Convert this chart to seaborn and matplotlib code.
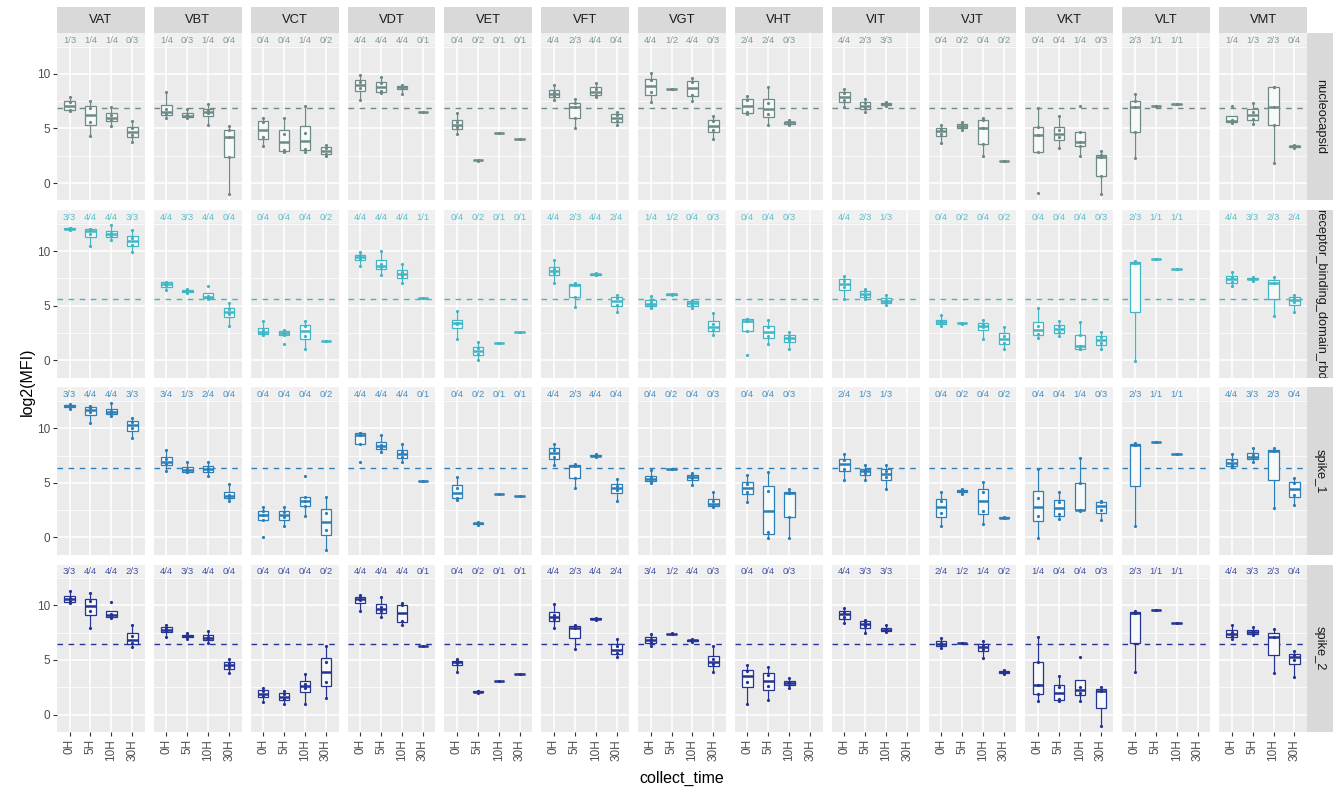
import matplotlib
matplotlib.use("Agg")
import matplotlib.pyplot as plt
import pandas as pd
import seaborn as sns

times = ["0H", "5H", "10H", "30H"]
sites = ["VAT", "VBT", "VCT", "VDT", "VET", "VFT", "VGT",
         "VHT", "VIT", "VJT", "VKT", "VLT", "VMT"]
antigens = ["nucleocapsid", "receptor_binding_domain_rbd", "spike_1", "spike_2"]
cutoffs = [6.92, 5.58, 6.33, 6.49]
colors = ["#6E8A88", "#41B6C4", "#2C7FB8", "#253494"]

# log2(MFI) per site, per collect_time (0H, 5H, 10H, 30H)
nucleocapsid = [
    [[6.6, 6.7, 7.4, 7.9], [4.3, 5.6, 6.9, 7.5], [5.2, 5.8, 6.2, 7.0], [3.8, 4.4, 5.0, 5.7]],
    [[6.0, 6.3, 6.8, 8.3], [5.95, 6.1, 6.25, 6.8], [5.3, 6.45, 6.65, 7.2], [-1.0, 2.4, 4.2, 4.9, 5.2]],
    [[3.4, 4.2, 5.6, 6.0], [2.85, 3.0, 4.45, 5.95], [2.8, 3.15, 4.6, 7.1], [2.45, 2.7, 3.2, 3.5]],
    [[7.6, 8.7, 9.3, 9.9], [8.25, 8.4, 9.15, 9.7], [8.2, 8.75, 8.9, 9.0], [6.5]],
    [[4.5, 5.1, 5.6, 6.45], [2.05, 2.15], [4.57], [4.05]],
    [[7.6, 8.0, 8.35, 9.0], [5.0, 5.95, 6.95, 7.3, 7.7], [7.9, 8.1, 8.65, 9.15], [5.35, 5.65, 6.25, 6.55]],
    [[7.4, 8.3, 9.4, 10.05], [8.6, 8.66], [7.5, 8.1, 9.3, 9.65], [4.0, 4.85, 5.65, 6.15]],
    [[6.35, 6.5, 7.6, 8.0], [5.35, 6.3, 7.35, 8.8], [5.3, 5.5, 5.6, 5.75], []],
    [[7.0, 7.6, 8.25, 8.6], [6.5, 6.9, 7.3, 7.7], [7.05, 7.2, 7.3, 7.45], []],
    [[3.65, 4.5, 4.95, 5.33], [4.9, 5.1, 5.4, 5.55], [2.5, 3.6, 5.0, 5.8, 5.95], [2.0, 2.05]],
    [[-0.9, 2.84, 4.36, 5.1, 6.86], [3.2, 4.2, 4.85, 6.1], [2.5, 3.35, 3.72, 4.63, 7.07], [-1.0, 0.61, 2.4, 2.6, 2.9]],
    [[2.3, 4.66, 7.0, 7.56, 8.14], [7.05, 7.1], [7.2, 7.25], []],
    [[5.5, 5.6, 5.8, 7.05], [5.45, 5.85, 6.55, 7.35], [1.8, 5.33, 7.0, 8.78, 8.8], [3.2, 3.3, 3.4, 3.45]],
]

receptor_binding_domain_rbd = [
    [[11.95, 12.0, 12.1, 12.15], [10.5, 11.6, 12.0, 12.05], [11.0, 11.4, 11.7, 12.4], [9.9, 10.6, 11.2, 11.9]],
    [[6.4, 6.85, 7.1, 7.2], [6.2, 6.3, 6.45, 6.55], [5.65, 5.75, 5.9, 6.8], [3.15, 4.2, 4.65, 5.25]],
    [[2.3, 2.45, 2.75, 3.55], [1.5, 2.3, 2.5, 2.7, 2.75], [1.0, 2.2, 3.1, 3.55], [1.8]],
    [[8.65, 9.3, 9.6, 9.9], [7.8, 8.5, 8.85, 10.0], [7.1, 7.7, 8.05, 8.85], [5.7]],
    [[1.9, 3.3, 3.45, 4.55], [0.0, 0.6, 1.1, 1.7], [1.55], [2.59]],
    [[7.1, 8.0, 8.4, 9.15], [4.9, 5.8, 6.85, 6.95, 7.1], [7.8, 7.85, 7.9, 7.95], [4.45, 5.1, 5.7, 6.0]],
    [[4.75, 5.0, 5.35, 5.9], [6.0, 6.05], [4.75, 5.1, 5.4, 5.5], [2.3, 2.8, 3.3, 4.35]],
    [[0.5, 2.65, 3.57, 3.75, 3.8], [1.5, 2.2, 3.0, 3.65], [1.0, 1.85, 2.2, 2.6], []],
    [[5.6, 6.7, 7.3, 7.75], [5.65, 5.9, 6.3, 6.5], [5.1, 5.3, 5.55, 6.0], []],
    [[3.15, 3.4, 3.6, 4.1], [3.35, 3.45], [1.9, 3.0, 3.3, 3.65], [1.0, 1.6, 2.25, 3.05]],
    [[2.0, 2.4, 3.1, 4.8], [2.25, 2.6, 3.1, 3.55], [1.0, 1.0, 1.3, 2.35, 3.5], [1.0, 1.55, 2.1, 2.6]],
    [[-0.05, 8.95, 9.1], [9.24], [8.38], []],
    [[6.8, 7.2, 7.6, 8.05], [7.3, 7.45, 7.5, 7.65], [4.05, 7.1, 7.6], [4.45, 5.3, 5.7, 5.95]],
]

spike_1 = [
    [[11.8, 11.95, 12.15, 12.2], [10.45, 11.5, 11.9, 12.0], [11.15, 11.35, 11.6, 12.3], [9.1, 10.0, 10.6, 10.9]],
    [[6.1, 6.75, 7.15, 8.0], [5.95, 6.0, 6.3, 6.9], [5.65, 6.15, 6.4, 6.9], [3.35, 3.65, 3.9, 4.85]],
    [[0.0, 1.6, 2.05, 2.42, 2.8], [1.0, 1.85, 2.3, 2.8], [2.0, 2.91, 3.33, 3.73, 5.63], [-1.15, 0.7, 2.2, 3.7]],
    [[6.95, 8.53, 9.39, 9.54, 9.6], [7.8, 8.2, 8.5, 9.4], [6.95, 7.4, 7.85, 8.6], [5.17]],
    [[3.45, 3.6, 4.5, 5.55], [1.15, 1.25, 1.35, 1.4], [3.94], [3.82]],
    [[6.65, 7.4, 8.0, 8.6], [4.5, 5.47, 6.57, 6.64, 6.7], [7.4, 7.45, 7.55, 7.6], [3.35, 4.3, 4.75, 5.35]],
    [[4.95, 5.2, 5.5, 6.15], [6.25, 6.3], [4.8, 5.45, 5.7, 5.9], [2.8, 2.85, 3.3, 4.2]],
    [[3.2, 4.2, 4.9, 5.7], [-0.1, 0.5, 4.25, 5.95], [-0.1, 1.9, 4.04, 4.19, 4.43], []],
    [[5.25, 6.3, 7.1, 7.6], [5.3, 5.9, 6.2, 6.6], [4.45, 5.5, 6.1, 6.6], []],
    [[1.0, 2.2, 3.3, 4.2], [4.0, 4.2, 4.35, 4.45], [1.2, 2.4, 4.2, 5.1], [1.75, 1.85]],
    [[-0.1, 2.0, 3.6, 6.3], [1.7, 2.1, 3.2, 4.2], [2.4, 2.5, 2.55, 4.95, 7.25], [1.6, 2.5, 3.2, 3.3]],
    [[1.0, 8.5, 8.62], [8.78], [7.61], []],
    [[6.45, 6.6, 7.1, 7.6], [6.9, 7.25, 7.55, 8.15], [2.65, 7.9, 8.15], [2.95, 3.9, 4.95, 5.4]],
]

spike_2 = [
    [[10.2, 10.4, 10.7, 11.3], [7.95, 9.5, 10.4, 11.1], [8.85, 9.0, 9.2, 10.35], [6.2, 6.55, 7.2, 8.25]],
    [[7.15, 7.65, 7.9, 8.25], [6.95, 7.1, 7.25, 7.45], [6.55, 6.95, 7.15, 7.7], [3.8, 4.35, 4.7, 5.1]],
    [[1.15, 1.7, 2.15, 2.4], [0.95, 1.4, 1.85, 2.2], [1.0, 2.4, 2.8, 3.75], [1.55, 3.0, 4.8, 6.25]],
    [[9.5, 10.5, 10.75, 10.95], [8.9, 9.5, 9.9, 10.8], [8.2, 8.6, 10.0, 10.2], [6.28]],
    [[3.9, 4.7, 4.9, 5.05], [1.95, 2.05, 2.15, 2.2], [3.05], [3.75]],
    [[7.9, 8.8, 9.15, 10.1], [6.05, 7.95, 8.25], [8.7, 8.75, 8.8, 8.85], [5.25, 5.6, 6.25, 6.95]],
    [[6.25, 6.65, 6.95, 7.4], [7.38, 7.44], [6.65, 6.75, 6.85, 6.95], [3.9, 4.6, 5.1, 6.25]],
    [[1.0, 3.0, 4.0, 4.5], [1.3, 2.6, 3.6, 4.4], [2.4, 2.75, 2.95, 3.35], []],
    [[8.35, 8.95, 9.4, 9.8], [7.5, 8.1, 8.5, 8.65], [7.55, 7.7, 7.85, 8.25], []],
    [[6.1, 6.4, 6.6, 7.0], [6.52, 6.58], [5.2, 6.05, 6.35, 6.75], [3.7, 3.85, 3.95, 4.1]],
    [[1.25, 1.92, 2.68, 4.82, 7.1], [1.25, 1.4, 2.5, 3.5], [1.25, 2.0, 2.5, 5.27], [-1.05, 2.2, 2.55]],
    [[3.9, 9.3, 9.5], [9.54], [8.41], []],
    [[6.95, 7.2, 7.55, 8.25], [7.25, 7.45, 7.65, 8.05], [3.8, 7.1, 7.85], [3.4, 5.0, 5.5, 5.8]],
]

# positives / samples, shown at the top of each panel
nucleocapsid_counts = ["1/3 1/4 1/4 0/3", "1/4 0/3 1/4 0/4", "0/4 0/4 1/4 0/2", "4/4 4/4 4/4 0/1",
                       "0/4 0/2 0/1 0/1", "4/4 2/3 4/4 0/4", "4/4 1/2 4/4 0/3", "2/4 2/4 0/3",
                       "4/4 2/3 3/3", "0/4 0/2 0/4 0/2", "0/4 0/4 1/4 0/3", "2/3 1/1 1/1",
                       "1/4 1/3 2/3 0/4"]
rbd_counts = ["3/3 4/4 4/4 3/3", "4/4 3/3 4/4 0/4", "0/4 0/4 0/4 0/2", "4/4 4/4 4/4 1/1",
              "0/4 0/2 0/1 0/1", "4/4 2/3 4/4 2/4", "1/4 1/2 0/4 0/3", "0/4 0/4 0/3",
              "4/4 2/3 1/3", "0/4 0/2 0/4 0/2", "0/4 0/4 0/4 0/3", "2/3 1/1 1/1",
              "4/4 3/3 2/3 2/4"]
spike_1_counts = ["3/3 4/4 4/4 3/3", "3/4 1/3 2/4 0/4", "0/4 0/4 0/4 0/2", "4/4 4/4 4/4 0/1",
                  "0/4 0/2 0/1 0/1", "4/4 2/3 4/4 0/4", "0/4 0/2 0/4 0/3", "0/4 0/4 0/3",
                  "2/4 1/3 1/3", "0/4 0/2 0/4 0/2", "0/4 0/4 1/4 0/3", "2/3 1/1 1/1",
                  "4/4 3/3 2/3 0/4"]
spike_2_counts = ["3/3 4/4 4/4 2/3", "4/4 3/3 4/4 0/4", "0/4 0/4 0/4 0/2", "4/4 4/4 4/4 0/1",
                  "0/4 0/2 0/1 0/1", "4/4 2/3 4/4 2/4", "3/4 1/2 4/4 0/3", "0/4 0/4 0/3",
                  "4/4 3/3 3/3", "2/4 1/2 1/4 0/2", "1/4 0/4 0/4 0/3", "2/3 1/1 1/1",
                  "4/4 3/3 2/3 0/4"]

all_values = [nucleocapsid, receptor_binding_domain_rbd, spike_1, spike_2]
all_counts = [nucleocapsid_counts, rbd_counts, spike_1_counts, spike_2_counts]

records = []
for antigen, site_data in zip(antigens, all_values):
    for site, boxes in zip(sites, site_data):
        for t, vals in zip(times, boxes):
            for v in vals:
                records.append((antigen, site, t, v))
df = pd.DataFrame(records, columns=["antigen", "site", "collect_time", "mfi"])

plt.rcParams["font.family"] = ["Liberation Sans", "DejaVu Sans"]

W, H = 1341, 789
fig, axes = plt.subplots(4, 13, figsize=(W / 100, H / 100), dpi=100)
fig.subplots_adjust(left=57 / W, right=1307 / W, top=1 - 33 / H, bottom=1 - 732 / H,
                    wspace=0.102, hspace=0.058)

for i, antigen in enumerate(antigens):
    c = colors[i]
    for j, site in enumerate(sites):
        ax = axes[i, j]
        sub = df[(df.antigen == antigen) & (df.site == site)]
        ax.set_facecolor("#EBEBEB")
        ax.axhspan(12.6, 14, color="#F0F0F0", lw=0, zorder=0.1)
        ax.axhline(cutoffs[i], color=c, lw=1.0, ls=(0, (4, 4)), zorder=1.5)

        sns.boxplot(data=sub, x="collect_time", y="mfi", order=times, ax=ax,
                    color="#F8F9F9", saturation=1, linecolor=c, linewidth=0.9,
                    width=0.5, showcaps=False, showfliers=False,
                    medianprops=dict(linewidth=1.8))
        sns.stripplot(data=sub, x="collect_time", y="mfi", order=times, ax=ax,
                      color=c, size=2.3, jitter=False, zorder=3)

        labels = all_counts[i][j].split()
        for k, lab in enumerate(labels):
            ax.text(k, 13.1, lab, ha="center", va="center", fontsize=6.8,
                    color=c, alpha=0.85)

        ax.set_xlim(-0.6, 3.6)
        ax.set_ylim(-1.6, 13.75)
        ax.set_xticks(range(4))
        ax.set_yticks([0, 5, 10])
        ax.set_yticks([2.5, 7.5, 12.5], minor=True)
        ax.set_axisbelow(True)
        ax.grid(True, which="major", color="white", lw=1.1)
        ax.grid(True, which="minor", axis="y", color="white", lw=0.55)
        ax.tick_params(which="minor", length=0)
        for s in ax.spines.values():
            s.set_visible(False)
        ax.set_xlabel("")
        ax.set_ylabel("")

        if j == 0:
            ax.set_yticklabels(["0", "5", "10"])
            ax.tick_params(axis="y", which="major", length=3, color="#333333",
                           labelsize=8.5, labelcolor="#4D4D4D", pad=2)
        else:
            ax.tick_params(axis="y", which="both", length=0, labelleft=False)
        if i == 3:
            ax.set_xticklabels(times, rotation=90)
            ax.tick_params(axis="x", length=3, color="#333333", labelsize=8.5,
                           labelcolor="#4D4D4D", pad=2)
        else:
            ax.tick_params(axis="x", length=0, labelbottom=False)

# facet strips
for j, site in enumerate(sites):
    pos = axes[0, j].get_position()
    sax = fig.add_axes([pos.x0, pos.y1, pos.width, 26 / H])
    sax.set_facecolor("#D9D9D9")
    sax.set_xticks([])
    sax.set_yticks([])
    for s in sax.spines.values():
        s.set_visible(False)
    sax.text(0.5, 0.5, site, ha="center", va="center", fontsize=9.3, color="#1A1A1A")

for i, antigen in enumerate(antigens):
    pos = axes[i, 12].get_position()
    sax = fig.add_axes([pos.x1, pos.y0, 26 / W, pos.height])
    sax.set_facecolor("#D9D9D9")
    sax.set_xticks([])
    sax.set_yticks([])
    for s in sax.spines.values():
        s.set_visible(False)
    sax.text(0.5, 0.5, antigen, ha="center", va="center", rotation=-90,
             fontsize=9.3, color="#1A1A1A", clip_on=True)

fig.text(27 / W, 1 - 382 / H, "log2(MFI)", rotation=90, ha="center", va="center",
         fontsize=11.5, color="black")
fig.text(682 / W, 1 - 778 / H, "collect_time", ha="center", va="center",
         fontsize=11.5, color="black")

fig.savefig("out.png", dpi=100)
